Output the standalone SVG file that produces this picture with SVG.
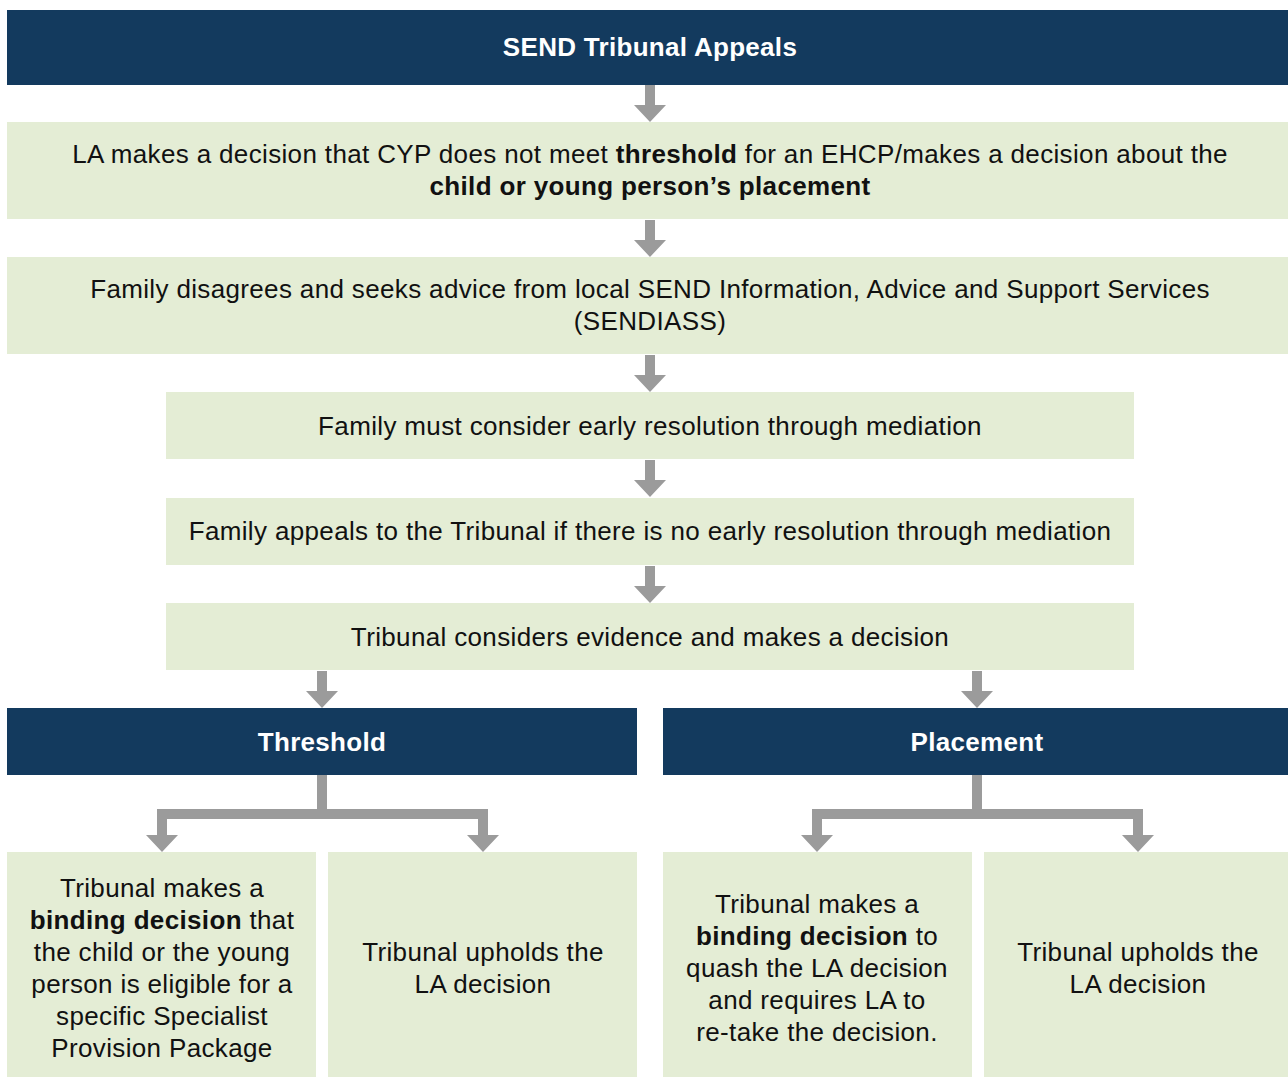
<svg xmlns="http://www.w3.org/2000/svg" width="1288" height="1077" viewBox="0 0 1288 1077">
<style>
.navy{fill:#133a5e}
.green{fill:#e4edd5}
.t{font-family:"Liberation Sans",Arial,Helvetica,sans-serif;font-size:26px;letter-spacing:0.35px;fill:#111111;text-anchor:middle}
.h{font-family:"Liberation Sans",Arial,Helvetica,sans-serif;font-size:26px;letter-spacing:0.3px;font-weight:bold;fill:#ffffff;text-anchor:middle}
.b{font-weight:bold}
.arr{fill:#9b9b9b}
</style>
<defs>
<path id="down" d="M-5,0 H5 V20 H16 L0,37 L-16,20 H-5 Z"/>
</defs>
<rect width="1288" height="1077" fill="#ffffff"/>
<g id="connectors" class="arr">
<use href="#down" x="650" y="85"/>
<use href="#down" x="650" y="220"/>
<use href="#down" x="650" y="355"/>
<use href="#down" x="650" y="460"/>
<use href="#down" x="650" y="566"/>
<use href="#down" x="322" y="671"/>
<use href="#down" x="977" y="671"/>
<path d="M317,775 H327 V809 H488 V835 H499 L483,852 L467,835 H478 V819 H167 V835 H178 L162,852 L146,835 H157 V809 H317 Z"/>
<path d="M972,775 H982 V809 H1143 V835 H1154 L1138,852 L1122,835 H1133 V819 H822 V835 H833 L817,852 L801,835 H812 V809 H972 Z"/>
</g>
<g id="n-title">
<rect class="navy" x="7" y="10" width="1281" height="75"/>
<text class="h" x="650" y="56">SEND Tribunal Appeals</text>
</g>
<g id="n-decision">
<rect class="green" x="7" y="122" width="1281" height="97"/>
<text class="t" x="650" y="163">LA makes a decision that CYP does not meet <tspan class="b">threshold</tspan> for an EHCP/makes a decision about the</text>
<text class="t b" x="650" y="195">child or young person’s placement</text>
</g>
<g id="n-family">
<rect class="green" x="7" y="257" width="1281" height="97"/>
<text class="t" x="650" y="298">Family disagrees and seeks advice from local SEND Information, Advice and Support Services</text>
<text class="t" x="650" y="330">(SENDIASS)</text>
</g>
<g id="n-mediation">
<rect class="green" x="166" y="392" width="968" height="67"/>
<text class="t" x="650" y="435">Family must consider early resolution through mediation</text>
</g>
<g id="n-appeal">
<rect class="green" x="166" y="498" width="968" height="67"/>
<text class="t" x="650" y="540">Family appeals to the Tribunal if there is no early resolution through mediation</text>
</g>
<g id="n-considers">
<rect class="green" x="166" y="603" width="968" height="67"/>
<text class="t" x="650" y="646">Tribunal considers evidence and makes a decision</text>
</g>
<g id="n-threshold">
<rect class="navy" x="7" y="708" width="630" height="67"/>
<text class="h" x="322" y="751">Threshold</text>
</g>
<g id="n-placement">
<rect class="navy" x="663" y="708" width="625" height="67"/>
<text class="h" x="977" y="751">Placement</text>
</g>
<g id="n-th-binding">
<rect class="green" x="7" y="852" width="309" height="225"/>
<text class="t" x="162" y="897">Tribunal makes a</text>
<text class="t" x="162" y="929"><tspan class="b">binding decision</tspan> that</text>
<text class="t" x="162" y="961">the child or the young</text>
<text class="t" x="162" y="993">person is eligible for a</text>
<text class="t" x="162" y="1025">specific Specialist</text>
<text class="t" x="162" y="1057">Provision Package</text>
</g>
<g id="n-th-upholds">
<rect class="green" x="328" y="852" width="309" height="225"/>
<text class="t" x="483" y="961">Tribunal upholds the</text>
<text class="t" x="483" y="993">LA decision</text>
</g>
<g id="n-pl-binding">
<rect class="green" x="663" y="852" width="309" height="225"/>
<text class="t" x="817" y="913">Tribunal makes a</text>
<text class="t" x="817" y="945"><tspan class="b">binding decision</tspan> to</text>
<text class="t" x="817" y="977">quash the LA decision</text>
<text class="t" x="817" y="1009">and requires LA to</text>
<text class="t" x="817" y="1041">re-take the decision.</text>
</g>
<g id="n-pl-upholds">
<rect class="green" x="984" y="852" width="304" height="225"/>
<text class="t" x="1138" y="961">Tribunal upholds the</text>
<text class="t" x="1138" y="993">LA decision</text>
</g>
</svg>
